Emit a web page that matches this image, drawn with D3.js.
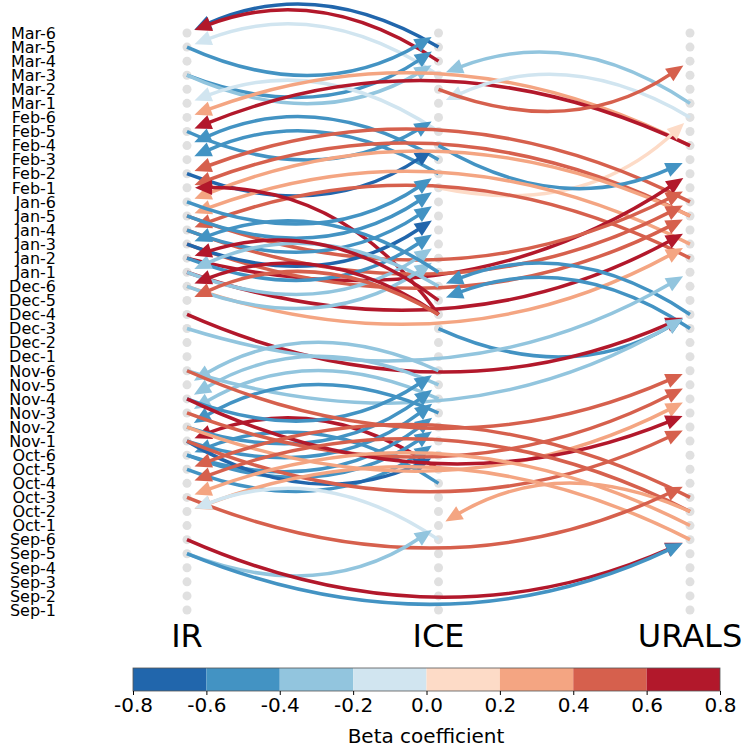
<!DOCTYPE html>
<html lang="en">
<head>
<meta charset="utf-8">
<title>Causal links</title>
<script src="https://d3js.org/d3.v7.min.js"></script>
<style>
  body { margin: 0; background: #fff; }
  text { font-family: "DejaVu Sans", sans-serif; }
</style>
</head>
<body>
<div id="chart"></div>
<script>

// rows, top to bottom
var rows = ["Mar-6","Mar-5","Mar-4","Mar-3","Mar-2","Mar-1",
            "Feb-6","Feb-5","Feb-4","Feb-3","Feb-2","Feb-1",
            "Jan-6","Jan-5","Jan-4","Jan-3","Jan-2","Jan-1",
            "Dec-6","Dec-5","Dec-4","Dec-3","Dec-2","Dec-1",
            "Nov-6","Nov-5","Nov-4","Nov-3","Nov-2","Nov-1",
            "Oct-6","Oct-5","Oct-4","Oct-3","Oct-2","Oct-1",
            "Sep-6","Sep-5","Sep-4","Sep-3","Sep-2","Sep-1"];

var variables = ["IR", "ICE", "URALS"];

// colorbar
var cbTicks = [-0.8, -0.6, -0.4, -0.2, 0.0, 0.2, 0.4, 0.6, 0.8];
var cbColors = ["#2166ac","#4393c3","#92c5de","#d1e5f0","#fddbc7","#f4a582","#d6604d","#b2182b"];

// links: [from var, from row, to var, to row, beta]
var links = [
  ["ICE","Mar-5","IR","Mar-6",-0.7],
  ["ICE","Mar-4","IR","Mar-6",0.7],
  ["ICE","Mar-3","IR","Mar-5",-0.1],
  ["IR","Mar-5","ICE","Mar-6",-0.5],
  ["IR","Mar-3","ICE","Mar-5",-0.5],
  ["IR","Mar-3","ICE","Mar-4",-0.3],
  ["ICE","Feb-5","IR","Mar-1",-0.1],
  ["URALS","Feb-4","IR","Feb-6",0.3],
  ["URALS","Feb-4","IR","Feb-5",0.7],
  ["URALS","Mar-1","ICE","Mar-3",-0.3],
  ["URALS","Feb-6","ICE","Mar-1",-0.1],
  ["ICE","Mar-2","URALS","Mar-4",0.5],
  ["ICE","Feb-1","URALS","Feb-6",0.1],
  ["IR","Feb-5","ICE","Feb-6",-0.5],
  ["ICE","Feb-3","IR","Feb-4",-0.5],
  ["ICE","Feb-2","IR","Feb-3",-0.5],
  ["IR","Feb-2","ICE","Feb-4",-0.7],
  ["URALS","Jan-6","IR","Feb-2",0.5],
  ["URALS","Jan-5","IR","Feb-1",0.5],
  ["ICE","Feb-4","URALS","Feb-3",-0.5],
  ["URALS","Jan-5","IR","Jan-6",0.3],
  ["URALS","Jan-3","IR","Jan-5",0.3],
  ["URALS","Jan-2","IR","Jan-4",0.5],
  ["ICE","Dec-4","IR","Feb-1",0.7],
  ["IR","Jan-1","URALS","Jan-4",0.7],
  ["IR","Jan-2","URALS","Feb-2",0.7],
  ["IR","Jan-5","URALS","Feb-1",0.5],
  ["IR","Jan-4","URALS","Jan-6",0.5],
  ["IR","Jan-3","URALS","Jan-5",0.5],
  ["IR","Dec-6","URALS","Jan-3",0.3],
  ["IR","Jan-6","ICE","Feb-2",-0.5],
  ["IR","Jan-5","ICE","Feb-1",-0.5],
  ["IR","Jan-4","ICE","Jan-6",-0.5],
  ["IR","Jan-3","ICE","Jan-5",-0.7],
  ["IR","Jan-2","ICE","Jan-4",-0.5],
  ["IR","Jan-1","ICE","Jan-3",-0.3],
  ["IR","Dec-6","ICE","Jan-2",-0.3],
  ["ICE","Jan-1","IR","Jan-3",-0.5],
  ["ICE","Dec-6","IR","Jan-1",-0.3],
  ["ICE","Dec-5","IR","Jan-2",0.7],
  ["ICE","Dec-4","IR","Dec-6",0.7],
  ["ICE","Dec-4","IR","Dec-5",0.5],
  ["URALS","Dec-4","ICE","Dec-6",-0.5],
  ["URALS","Dec-3","ICE","Dec-5",-0.5],
  ["ICE","Dec-3","URALS","Dec-4",-0.5],
  ["IR","Dec-4","URALS","Dec-4",0.7],
  ["IR","Dec-3","URALS","Jan-1",-0.3],
  ["IR","Nov-6","URALS","Dec-4",-0.3],
  ["ICE","Nov-6","IR","Nov-5",-0.3],
  ["ICE","Nov-5","IR","Nov-4",-0.3],
  ["ICE","Nov-4","IR","Nov-3",-0.3],
  ["ICE","Nov-3","IR","Nov-2",-0.5],
  ["ICE","Oct-5","IR","Nov-1",0.7],
  ["ICE","Oct-4","IR","Oct-6",-0.5],
  ["IR","Nov-4","ICE","Nov-6",-0.5],
  ["IR","Nov-2","ICE","Nov-5",-0.5],
  ["IR","Nov-1","ICE","Nov-4",-0.5],
  ["IR","Oct-6","ICE","Nov-3",-0.5],
  ["IR","Oct-6","ICE","Nov-2",-0.5],
  ["IR","Oct-5","ICE","Nov-1",-0.5],
  ["IR","Nov-1","ICE","Oct-6",-0.7],
  ["IR","Nov-6","URALS","Nov-6",0.5],
  ["IR","Nov-3","URALS","Nov-5",0.5],
  ["IR","Nov-2","URALS","Nov-4",0.3],
  ["IR","Nov-4","URALS","Nov-3",0.7],
  ["IR","Nov-1","URALS","Nov-2",0.5],
  ["URALS","Oct-3","IR","Oct-5",0.5],
  ["URALS","Oct-2","IR","Oct-4",0.5],
  ["URALS","Oct-1","IR","Oct-3",0.3],
  ["URALS","Sep-6","IR","Oct-2",0.3],
  ["URALS","Oct-2","ICE","Oct-1",0.3],
  ["IR","Oct-3","URALS","Oct-4",0.5],
  ["ICE","Sep-6","IR","Oct-2",-0.1],
  ["IR","Sep-5","ICE","Oct-1",-0.3],
  ["IR","Sep-6","URALS","Sep-6",0.7],
  ["IR","Sep-5","URALS","Sep-6",-0.5]
];

var width = 748, height = 750;

var svg = d3.select("#chart").append("svg")
    .attr("width", width)
    .attr("height", height);

var y = d3.scalePoint().domain(rows).range([33, 610]);
var x = d3.scalePoint().domain(variables).range([187, 690]);

var color = d3.scaleQuantize().domain([-0.8, 0.8]).range(cbColors);

// row labels
svg.append("g").selectAll("text")
    .data(rows)
    .enter().append("text")
    .attr("x", 56)
    .attr("y", function(d) { return y(d); })
    .attr("dy", "0.36em")
    .attr("text-anchor", "end")
    .style("font-size", "16px")
    .text(function(d) { return d; });

// node dots
var nodes = [];
variables.forEach(function(v) { rows.forEach(function(r) { nodes.push([v, r]); }); });
svg.append("g").selectAll("circle")
    .data(nodes)
    .enter().append("circle")
    .attr("cx", function(d) { return x(d[0]); })
    .attr("cy", function(d) { return y(d[1]); })
    .attr("r", 4.5)
    .attr("fill", "#e0e0e0");

// arc3-like curve, arrow at target
function geom(d) {
  var x0 = x(d[0]), y0 = y(d[1]), x1 = x(d[2]), y1 = y(d[3]);
  var dx = x1 - x0, dy = y1 - y0;
  var rad = Math.abs(dx) > 300 ? 0.22 : 0.26;
  // left-to-right dips, right-to-left bulges up
  var cx = (x0 + x1) / 2 - rad * dy, cy = (y0 + y1) / 2 + rad * dx;
  var ex = x1 - cx, ey = y1 - cy, el = Math.sqrt(ex * ex + ey * ey);
  var ux = ex / el, uy = ey / el;
  var tipX = x1 - ux * 8, tipY = y1 - uy * 8;
  var headL = 17, headW = 15;
  var bx = tipX - ux * headL, by = tipY - uy * headL;
  return {
    line: "M" + x0 + "," + y0 + " Q" + cx + "," + cy + " " + (bx + ux * 3) + "," + (by + uy * 3),
    head: [[tipX, tipY], [bx - uy * headW / 2, by + ux * headW / 2], [bx + uy * headW / 2, by - ux * headW / 2]]
  };
}

var g = svg.append("g");
links.forEach(function(d) {
  var s = geom(d);
  g.append("path")
      .attr("d", s.line)
      .attr("fill", "none")
      .attr("stroke", color(d[4]))
      .attr("stroke-width", 3.5);
  g.append("path")
      .attr("d", "M" + s.head.join("L") + "Z")
      .attr("fill", color(d[4]));
});

// column labels
svg.append("g").selectAll("text")
    .data(variables)
    .enter().append("text")
    .attr("x", function(d) { return x(d); })
    .attr("y", 647)
    .attr("text-anchor", "middle")
    .style("font-size", "32px")
    .text(function(d) { return d; });

// colorbar
var cbX = d3.scaleLinear().domain([-0.8, 0.8]).range([133, 720]);
var cb = svg.append("g");
cb.selectAll("rect")
    .data(cbColors)
    .enter().append("rect")
    .attr("x", function(d, i) { return cbX(cbTicks[i]); })
    .attr("y", 668)
    .attr("width", function(d, i) { return cbX(cbTicks[i + 1]) - cbX(cbTicks[i]); })
    .attr("height", 23)
    .attr("fill", function(d) { return d; });
cb.append("rect")
    .attr("x", 133).attr("y", 668)
    .attr("width", 587).attr("height", 23)
    .attr("fill", "none")
    .attr("stroke", "#555")
    .attr("stroke-width", 0.8);

var axis = d3.axisBottom(cbX)
    .tickValues(cbTicks)
    .tickFormat(d3.format(".1f"))
    .tickSize(4)
    .tickPadding(3);
var ax = cb.append("g")
    .attr("transform", "translate(0,691)")
    .call(axis);
ax.select(".domain").remove();
ax.selectAll("text")
    .style("font-size", "20px")
    .style("font-family", "DejaVu Sans")
    .attr("fill", "#000")
    .text(function(d) { return d3.format(".1f")(d).replace("\u2212", "-"); });

cb.append("text")
    .attr("x", 426)
    .attr("y", 743)
    .attr("text-anchor", "middle")
    .style("font-size", "20px")
    .text("Beta coefficient");

</script>
</body>
</html>
